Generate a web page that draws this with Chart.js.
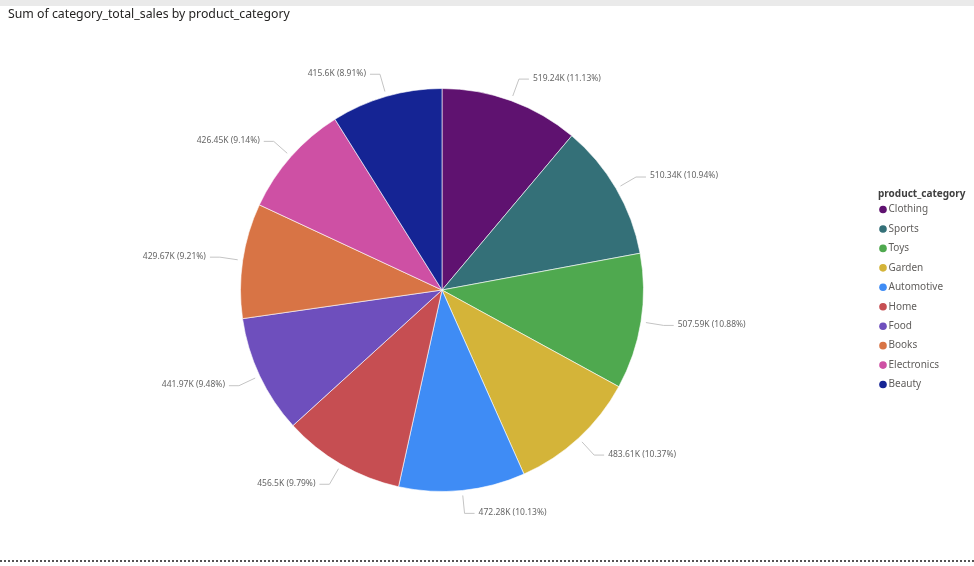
<!DOCTYPE html>
<html>
<head>
<meta charset="utf-8">
<script src="https://cdn.jsdelivr.net/npm/chart.js@4/dist/chart.umd.min.js"></script>
<style>
  html, body { margin: 0; padding: 0; background: #fff; }
  #wrap { position: relative; width: 974px; height: 566px; overflow: hidden; }
  #topbar { position: absolute; left: 0; top: 0; width: 974px; height: 6px; background: #eaeaea; }
  #title { position: absolute; left: 8px; top: 5px; font: 12.3px "Noto Sans", sans-serif; color: #252423; }
  #dots { position: absolute; left: 0; top: 560px; width: 974px; height: 0; border-top: 2px dotted #555; }
  canvas { position: absolute; left: 0; top: 0; }
</style>
</head>
<body>
<div id="wrap">
  <canvas id="chart" width="974" height="566"></canvas>
  <div id="topbar"></div>
  <div id="title">Sum of category_total_sales by product_category</div>
  <div id="dots"></div>
</div>
<script>
// 데이터 (단위: K)
const categories = ["Clothing", "Sports", "Toys", "Garden", "Automotive", "Home", "Food", "Books", "Electronics", "Beauty"];
const sales = [519.24, 510.34, 507.59, 483.61, 472.28, 456.5, 441.97, 429.67, 426.45, 415.6];
const colors = ["#5f1270", "#347078", "#4fa94f", "#d4b439", "#3f8cf5", "#c64e52", "#6e4fbd", "#d87445", "#ce50a4", "#152494"];
const legendTitle = "product_category";

const total = sales.reduce((a, b) => a + b, 0);

// 리더 라인 + 데이터 레이블
const pieLabels = {
  id: "pieLabels",
  afterDatasetsDraw(chart) {
    const ctx = chart.ctx;
    const meta = chart.getDatasetMeta(0);
    ctx.save();
    ctx.font = '8.5px "Noto Sans", sans-serif';
    ctx.textBaseline = "middle";
    meta.data.forEach((arc, i) => {
      const { x, y, startAngle, endAngle, outerRadius } = arc.getProps(["x", "y", "startAngle", "endAngle", "outerRadius"], true);
      const mid = (startAngle + endAngle) / 2;
      const cos = Math.cos(mid), sin = Math.sin(mid);
      const side = cos >= 0 ? 1 : -1;
      const p1 = [x + (outerRadius + 5) * cos, y + (outerRadius + 5) * sin];
      const p2 = [x + (outerRadius + 23) * cos, y + (outerRadius + 23) * sin];
      const p3 = [p2[0] + side * 10, p2[1]];
      ctx.strokeStyle = "#c4c4c4";
      ctx.lineWidth = 1;
      ctx.beginPath();
      ctx.moveTo(p1[0], p1[1]);
      ctx.lineTo(p2[0], p2[1]);
      ctx.lineTo(p3[0], p3[1]);
      ctx.stroke();
      const pct = (sales[i] / total * 100).toFixed(2);
      ctx.fillStyle = "#666666";
      ctx.textAlign = side > 0 ? "left" : "right";
      ctx.fillText(sales[i] + "K (" + pct + "%)", p3[0] + side * 4, p3[1] - 1);
    });
    ctx.restore();
  }
};

// 오른쪽 범례
const sideLegend = {
  id: "sideLegend",
  afterDraw(chart) {
    const ctx = chart.ctx;
    ctx.save();
    ctx.textBaseline = "middle";
    ctx.textAlign = "left";
    ctx.fillStyle = "#404040";
    ctx.font = 'bold 10px "Noto Sans", sans-serif';
    ctx.fillText(legendTitle, 878, 194);
    ctx.font = '10px "Noto Sans", sans-serif';
    categories.forEach((c, i) => {
      const cy = 209.5 + i * 19.45;
      ctx.fillStyle = colors[i];
      ctx.beginPath();
      ctx.arc(883, cy, 3.8, 0, Math.PI * 2);
      ctx.fill();
      ctx.fillStyle = "#605e5c";
      ctx.fillText(c, 888.5, cy);
    });
    ctx.restore();
  }
};

new Chart(document.querySelector("#chart"), {
  type: "pie",
  data: {
    labels: categories,
    datasets: [{
      data: sales,
      backgroundColor: colors,
      borderColor: "rgba(255,255,255,0.6)",
      borderWidth: 1
    }]
  },
  options: {
    responsive: false,
    animation: false,
    layout: { padding: { left: 240, right: 330, top: 88, bottom: 74 } },
    plugins: {
      legend: { display: false },
      tooltip: { enabled: false }
    }
  },
  plugins: [pieLabels, sideLegend]
});
</script>
</body>
</html>
